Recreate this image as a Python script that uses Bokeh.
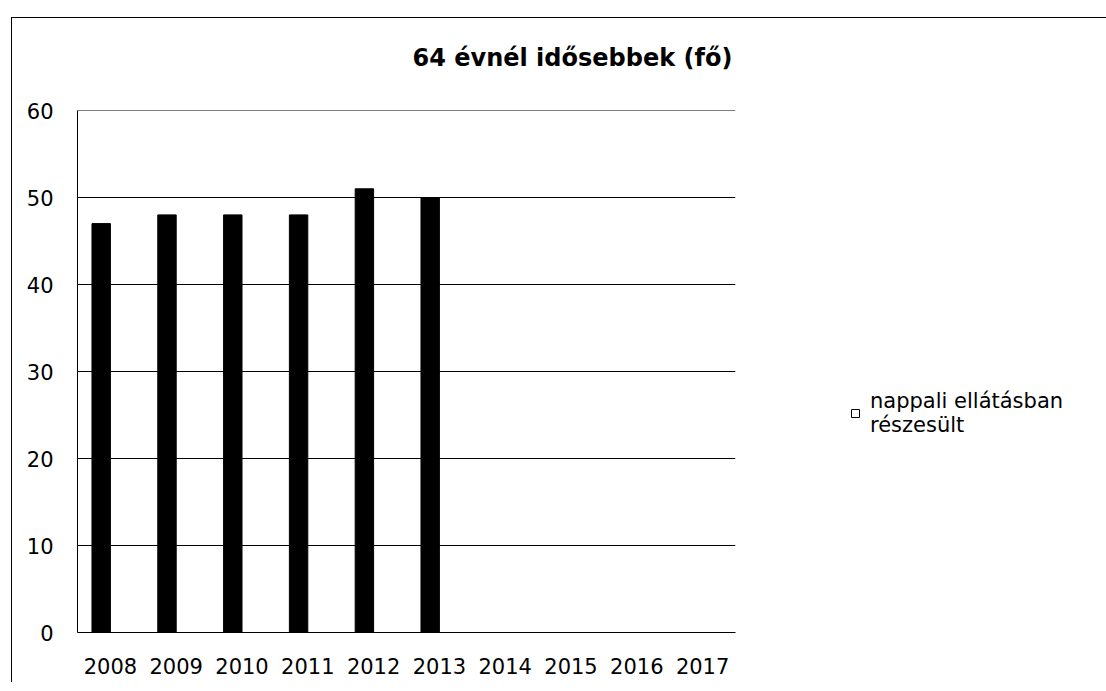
from bokeh.plotting import figure
from bokeh.models import Range1d, FactorRange, Legend, LegendItem, Title, ColumnDataSource, Span
from bokeh.transform import dodge
from bokeh.embed import file_html
from bokeh.resources import INLINE

years = ["2008", "2009", "2010", "2011", "2012", "2013", "2014", "2015", "2016", "2017"]
series_black = [47, 48, 48, 48, 51, 50, 0, 0, 0, 0]
series_nappali = [0, 0, 0, 0, 0, 0, 0, 0, 0, 0]
y_ticks = [0, 10, 20, 30, 40, 50, 60]
title_text = "64 évnél idősebbek (fő)"
legend_label = "nappali ellátásban\nrészesült"

FONT = "DejaVu Sans"
src = ColumnDataSource(dict(year=years, a=series_black, b=series_nappali))

p = figure(x_range=FactorRange(*years, range_padding=0), y_range=Range1d(y_ticks[0], y_ticks[-1]),
           frame_width=658, frame_height=522, output_backend="svg", toolbar_location=None,
           min_border_left=65, min_border_right=0, min_border_top=92, min_border_bottom=50)
p.margin = (17, 0, 0, 11)
p.styles = {"border-top": "1px solid black", "border-left": "1px solid black"}
p.outline_line_color = None
p.background_fill_color = "white"
p.border_fill_color = "white"

# spacer between frame and title
p.add_layout(Title(text=" ", text_font_size="1px", standoff=36), "above")
p.add_layout(Title(text=title_text, align="left", offset=335, standoff=0,
                   text_font=FONT, text_font_size="24px", text_font_style="bold",
                   text_color="black"), "above")

r1 = p.vbar(x=dodge("year", -0.14, range=p.x_range), top="a", width=0.28, source=src,
            fill_color="black", line_color="black")
r2 = p.vbar(x=dodge("year", 0.14, range=p.x_range), top="b", width=0.28, source=src,
            fill_color="white", line_color="black", line_width=1)

p.xgrid.grid_line_color = None
p.ygrid.grid_line_color = "black"
p.ygrid.grid_line_width = 1
p.add_layout(Span(location=y_ticks[-1], dimension="width", line_color="black", line_width=1))
p.yaxis.ticker = y_ticks
p.yaxis.major_tick_line_color = None
p.yaxis.minor_tick_line_color = None
p.yaxis.axis_line_color = "black"
p.yaxis.major_label_standoff = 18
p.yaxis.major_label_text_font = FONT
p.yaxis.major_label_text_font_size = "21px"
p.yaxis.major_label_text_color = "black"
p.xaxis.major_tick_line_color = None
p.xaxis.axis_line_color = "black"
p.xaxis.major_label_standoff = 19
p.xaxis.major_label_text_font = FONT
p.xaxis.major_label_text_font_size = "21px"
p.xaxis.major_label_text_color = "black"

legend = Legend(items=[LegendItem(label=legend_label, renderers=[r2])],
                location=(115, 195), padding=0, margin=0, glyph_width=10, glyph_height=10,
                label_standoff=10, border_line_color=None, background_fill_alpha=0,
                label_text_font=FONT, label_text_font_size="21px", label_text_color="black")
p.add_layout(legend, "right")

open("out.html", "w").write(file_html(p, INLINE))
